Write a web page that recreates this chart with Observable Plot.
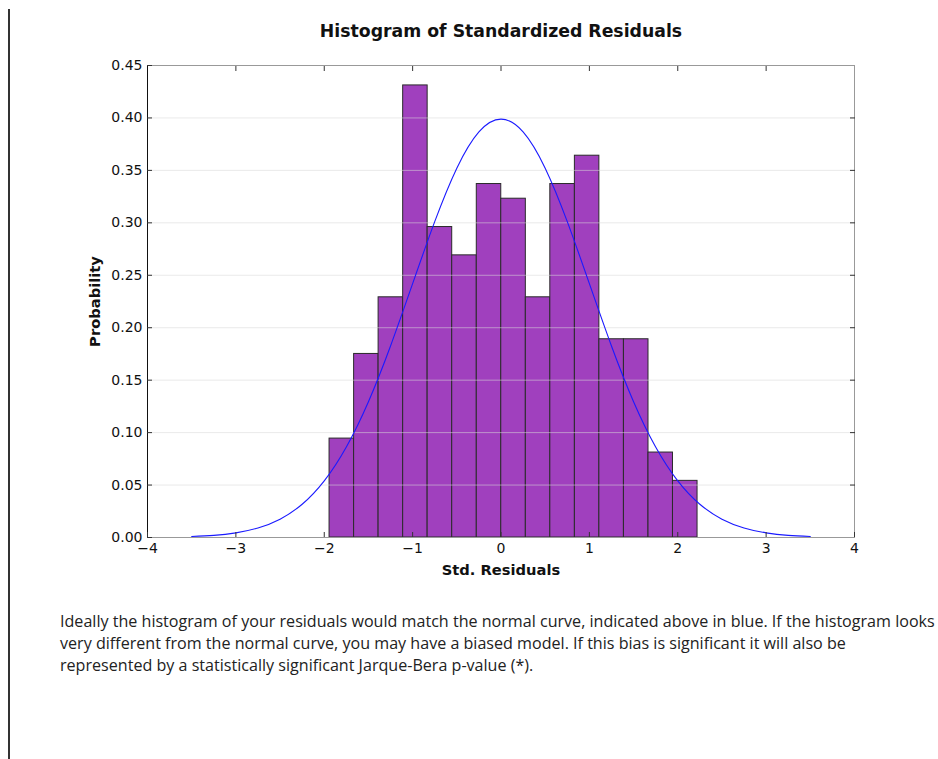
<!DOCTYPE html>
<html>
<head>
<meta charset="utf-8">
<script src="https://cdn.jsdelivr.net/npm/d3@7"></script>
<script src="https://cdn.jsdelivr.net/npm/@observablehq/plot@0.6"></script>
<style>
  html, body { margin: 0; padding: 0; background: white; }
  #page { position: relative; width: 938px; height: 759px; overflow: hidden; background: white; }
  #vline { position: absolute; left: 8px; top: 9px; width: 2px; height: 760px; background: #333; }
  #title { position: absolute; left: 0; top: 21px; width: 1002px; text-align: center;
           font-family: "DejaVu Sans", sans-serif; font-weight: bold; font-size: 17.3px; color: #111; }
  #chart { position: absolute; left: 0; top: 0; }
  #note { position: absolute; left: 60px; top: 610px; white-space: nowrap;
          font-family: "Open Sans", sans-serif; font-size: 16.1px; line-height: 22px; color: #222; }
</style>
</head>
<body>
<div id="page">
  <div id="chart"></div>
  <div id="vline"></div>
  <div id="title"></div>
  <div id="note"></div>
</div>
<script>
// ---- data ----
const binEdges = [-1.940, -1.662, -1.385, -1.107, -0.830, -0.552, -0.274, 0.003, 0.281, 0.558, 0.836, 1.113, 1.391, 1.669, 1.946, 2.224];
const density  = [0.0943, 0.175, 0.229, 0.431, 0.296, 0.269, 0.337, 0.323, 0.229, 0.337, 0.364, 0.189, 0.189, 0.081, 0.054];
const curveX = [-3.5, -3.25, -3.0, -2.75, -2.5, -2.25, -2.0, -1.75, -1.5, -1.25, -1.0, -0.75, -0.5, -0.25, 0, 0.25, 0.5, 0.75, 1.0, 1.25, 1.5, 1.75, 2.0, 2.25, 2.5, 2.75, 3.0, 3.25, 3.5];
const curveY = [0.0009, 0.0020, 0.0044, 0.0091, 0.0175, 0.0317, 0.0540, 0.0863, 0.1295, 0.1826, 0.2420, 0.3011, 0.3521, 0.3867, 0.3989, 0.3867, 0.3521, 0.3011, 0.2420, 0.1826, 0.1295, 0.0863, 0.0540, 0.0317, 0.0175, 0.0091, 0.0044, 0.0020, 0.0009];
const xTicks = [-4, -3, -2, -1, 0, 1, 2, 3, 4];
const yTicks = [0, 0.05, 0.10, 0.15, 0.20, 0.25, 0.30, 0.35, 0.40, 0.45];
const titleText = "Histogram of Standardized Residuals";
const xLabel = "Std. Residuals";
const yLabel = "Probability";
const noteLines = [
  "Ideally the histogram of your residuals would match the normal curve, indicated above in blue. If the histogram looks",
  "very different from the normal curve, you may have a biased model. If this bias is significant it will also be",
  "represented by a statistically significant Jarque-Bera p-value (*)."
];

// ---- build tables ----
const bars = density.map((d, i) => ({x1: binEdges[i], x2: binEdges[i + 1], y: d}));
const curve = curveX.map((x, i) => ({x, y: curveY[i]}));

const minus = (s) => s.replace("-", "\u2212");
const font = {fontFamily: "DejaVu Sans, sans-serif", fontSize: 14};
const labelFont = {fontFamily: "DejaVu Sans, sans-serif", fontSize: 14.7, fontWeight: "bold"};

const chart = Plot.plot({
  width: 938,
  height: 590,
  marginLeft: 147,
  marginRight: 84,
  marginTop: 65,
  marginBottom: 53,
  x: {domain: [-4, 4]},
  y: {domain: [0, 0.45]},
  style: {fontFamily: "DejaVu Sans, sans-serif", fontSize: "14px", color: "#111", background: "white"},
  marks: [
    Plot.rectY(bars, {x1: "x1", x2: "x2", y: "y", fill: "#a040be", stroke: "#2a2a2a", strokeWidth: 1}),
    Plot.gridY(yTicks.slice(1, -1), {stroke: "#d8d8d8", strokeOpacity: 0.55}),
    Plot.line(curve, {x: "x", y: "y", stroke: "#1a1aff", strokeWidth: 1.1, curve: "natural"}),
    Plot.frame({stroke: "#999"}),
    Plot.ruleX([-4], {stroke: "#111"}),
    Plot.axisX(xTicks, {anchor: "bottom", tickSize: -5, tickPadding: 11, tickFormat: (d) => minus(String(d)), label: null, stroke: "#333", ...font}),
    Plot.axisX(xTicks.slice(1, -1), {anchor: "top", tickSize: -5, tickFormat: () => "", label: null, stroke: "#333"}),
    Plot.axisY(yTicks, {anchor: "left", tickSize: -5, tickPadding: 10, tickFormat: d3.format(".2f"), label: null, stroke: "#333", ...font}),
    Plot.axisY(yTicks.slice(1, -1), {anchor: "right", tickSize: -5, tickFormat: () => "", label: null, stroke: "#333"}),
    Plot.text([xLabel], {frameAnchor: "bottom", dy: 37, lineAnchor: "bottom", textAnchor: "middle", fill: "#111", ...labelFont}),
    Plot.text([yLabel], {frameAnchor: "left", dx: -52, rotate: -90, textAnchor: "middle", lineAnchor: "middle", fill: "#111", ...labelFont})
  ]
});
document.getElementById("chart").appendChild(chart);
document.getElementById("title").textContent = titleText;
document.getElementById("note").innerHTML = noteLines.join("<br>");
</script>
</body>
</html>
